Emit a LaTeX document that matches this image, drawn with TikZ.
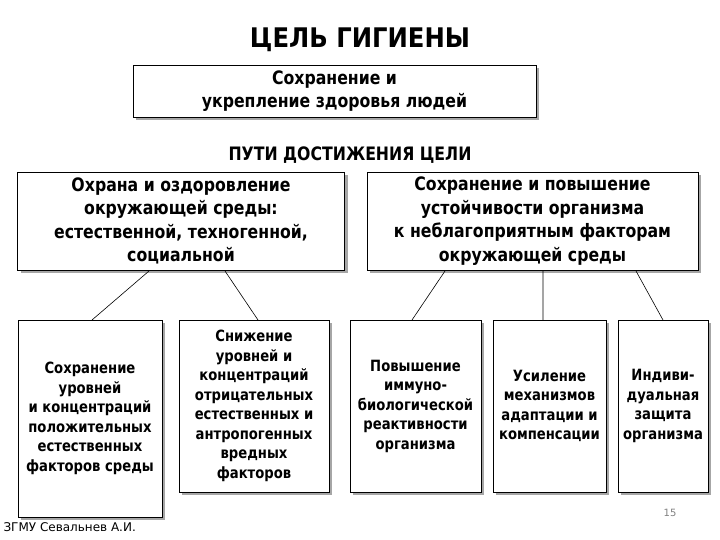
\documentclass[tikz,border=0pt]{standalone}
\usepackage{fontspec}
\setmainfont{DejaVu Sans}
\usetikzlibrary{shadows}
\begin{document}
\begin{tikzpicture}[x=1pt,y=-1pt,
 bx/.style={draw,thick,fill=white,align=center,inner sep=1pt,
   drop shadow={shadow xshift=3pt,shadow yshift=-3pt,fill=gray!70,opacity=1}},
 big/.style={font=\fontsize{18.5}{23.5}\selectfont\bfseries\addfontfeatures{FakeStretch=0.85}},
 sm/.style={font=\fontsize{15.5}{19.5}\selectfont\bfseries\addfontfeatures{FakeStretch=0.85}},
 ln/.style={semithick,black}]
\useasboundingbox (0,0) rectangle (720,540);
\node[font=\fontsize{27}{30}\selectfont\bfseries\addfontfeatures{FakeStretch=0.9}] (t) at (360,40) {ЦЕЛЬ ГИГИЕНЫ};
\node[bx,big,minimum width=403,minimum height=52] (g) at (334.5,91) {Сохранение и\\укрепление здоровья людей};
\node[big] (p) at (350,155) {ПУТИ ДОСТИЖЕНИЯ ЦЕЛИ};
\node[bx,big,minimum width=327,minimum height=98] (l) at (181,221) {Охрана и оздоровление\\окружающей среды:\\естественной, техногенной,\\социальной};
\node[bx,big,minimum width=331,minimum height=98] (r) at (532.5,221) {Сохранение и повышение\\устойчивости организма\\к неблагоприятным факторам\\окружающей среды};
\node[bx,sm,minimum width=144,minimum height=197] (a) at (90,418.5) {Сохранение\\уровней\\и концентраций\\положительных\\естественных\\факторов среды};
\node[bx,sm,minimum width=150,minimum height=172] (b) at (254,406) {Снижение\\уровней и\\концентраций\\отрицательных\\естественных и\\антропогенных\\вредных\\факторов};
\node[bx,sm,minimum width=131,minimum height=172] (c) at (415.5,406) {Повышение\\иммуно-\\биологической\\реактивности\\организма};
\node[bx,sm,minimum width=113,minimum height=172] (d) at (549.5,406) {Усиление\\механизмов\\адаптации и\\компенсации};
\node[bx,sm,minimum width=90,minimum height=172] (e) at (663,406) {Индиви-\\дуальная\\защита\\организма};
\coordinate (l1) at (149,271); \coordinate (l2) at (225,271);
\coordinate (r1) at (445,271); \coordinate (r2) at (543,271); \coordinate (r3) at (636,271);
\draw[ln] (l1) -- (92,320) (l2) -- (258,320) (r1) -- (412,320) (r2) -- (543,320) (r3) -- (663,320);
\node[font=\fontsize{12}{14}\selectfont,anchor=west] (f) at (0,527) {ЗГМУ  Севальнев А.И.};
\node[font=\fontsize{10}{12}\selectfont,text=gray] (n) at (670,513) {15};
\end{tikzpicture}
\end{document}
